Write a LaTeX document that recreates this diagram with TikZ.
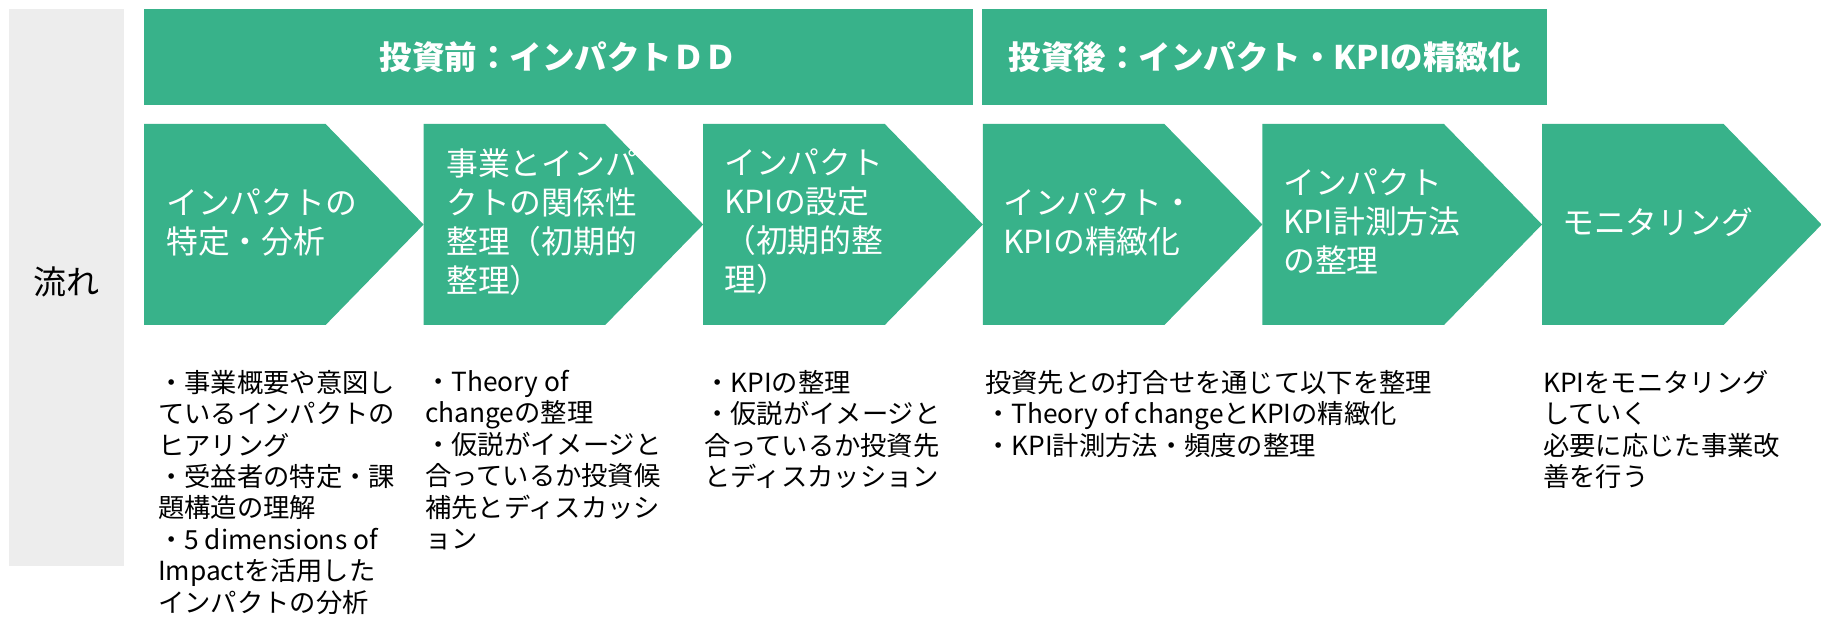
\documentclass[tikz,border=0pt]{standalone}
\usepackage{fontspec}
\setmainfont{Noto Sans CJK JP}
\definecolor{ggreen}{RGB}{56,178,138}
\definecolor{lgrey}{RGB}{237,237,237}
\tikzset{
  chevtxt/.style={anchor=west, align=left, text=white, font=\fontsize{31.8}{39}\selectfont, inner sep=0pt},
  bodytxt/.style={anchor=north west, align=left, text=black, font=\fontsize{26.3}{31.4}\selectfont, inner sep=0pt},
  banner/.style={fill=ggreen, anchor=north west, minimum height=96pt, inner sep=0pt, text=white, font=\fontsize{32.5}{36}\selectfont\bfseries},
  chevfill/.style={fill=ggreen}
}
\begin{document}
\begin{tikzpicture}[x=1pt,y=-1pt]
\useasboundingbox (0,0) rectangle (1821,620);
% side label
\node[fill=lgrey, anchor=north west, minimum width=115pt, minimum height=557pt, inner sep=0pt] (side) at (9,9) {};
\node[text=black, font=\fontsize{33}{38}\selectfont, inner sep=0pt] (flow) at (66,282) {流れ};
% banners
\node[banner, minimum width=829pt] (pre) at (144,9) {投資前：インパクトＤＤ};
\node[banner, minimum width=565pt] (post) at (982,9) {投資後：インパクト・KPIの精緻化};
% chevrons
\foreach \x in {144,423.6,703.2,982.8,1262.4,1542}{
  \fill[chevfill] (\x,124) -- ++(181.6,0) -- ++(98,100.5) -- ++(-98,100.5) -- ++(-181.6,0) -- cycle;
}
\node[chevtxt] (c1) at (166,222) {インパクトの\\特定・分析};
\node[chevtxt] (c2) at (446,222) {事業とインパ\\クトの関係性\\整理（初期的\\整理）};
\node[chevtxt] (c3) at (724,222) {インパクト\\KPIの設定\\（初期的整\\理）};
\node[chevtxt] (c4) at (1003,222) {インパクト・\\KPIの精緻化};
\node[chevtxt] (c5) at (1283,222) {インパクト\\KPI計測方法\\の整理};
\node[chevtxt] (c6) at (1562,222) {モニタリング};
% body texts
\node[bodytxt] (t1) at (158,370) {・事業概要や意図し\\ているインパクトの\\ヒアリング\\・受益者の特定・課\\題構造の理解\\・5 dimensions of\\Impactを活用した\\インパクトの分析};
\node[bodytxt] (t2) at (425,370) {・Theory of\\changeの整理\\・仮説がイメージと\\合っているか投資候\\補先とディスカッシ\\ョン};
\node[bodytxt] (t3) at (704,370) {・KPIの整理\\・仮説がイメージと\\合っているか投資先\\とディスカッション};
\node[bodytxt] (t4) at (985,370) {投資先との打合せを通じて以下を整理\\・Theory of changeとKPIの精緻化\\・KPI計測方法・頻度の整理};
\node[bodytxt] (t5) at (1543,370) {KPIをモニタリング\\していく\\必要に応じた事業改\\善を行う};
\end{tikzpicture}
\end{document}
